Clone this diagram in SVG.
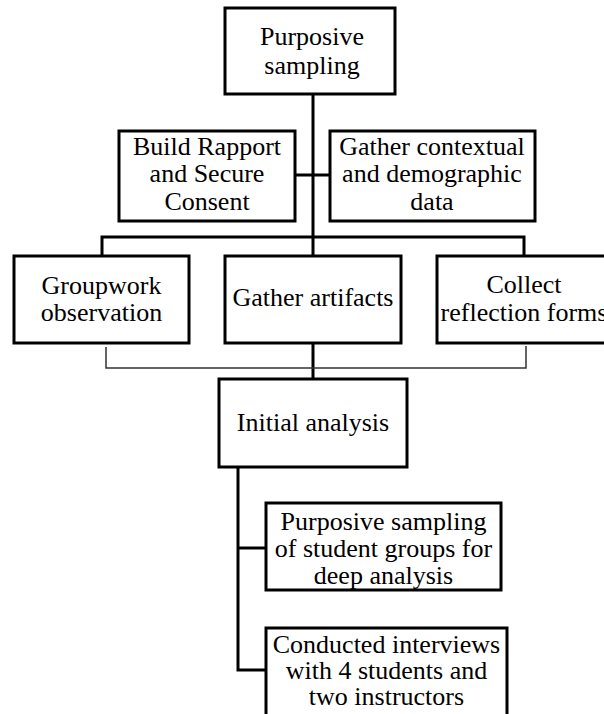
<svg xmlns="http://www.w3.org/2000/svg" width="604" height="714" viewBox="0 0 604 714">
  <style>
    .box { fill: #ffffff; stroke: #000000; stroke-width: 3; }
    .link { fill: none; stroke: #000000; stroke-width: 3; }
    .thin { fill: none; stroke: #333333; stroke-width: 1.5; }
    text { font-family: "Liberation Serif", "Times New Roman", serif; font-size: 26px; fill: #000000; text-anchor: middle; }
  </style>
  <rect width="604" height="714" fill="#ffffff"/>

  <!-- connectors -->
  <g id="connectors">
    <!-- main trunk -->
    <line class="link" x1="313" y1="94" x2="313" y2="379"/>
    <!-- side branches to rapport / context boxes -->
    <line class="link" x1="295" y1="175" x2="330" y2="175"/>
    <!-- bracket to the three collection boxes -->
    <polyline class="link" points="102,256 102,237 524,237 524,256"/>
    <!-- merge bracket under the collection boxes -->
    <polyline class="thin" points="106,347 106,368 526,368 526,346"/>
    <!-- initial analysis to follow-up steps -->
    <polyline class="link" points="238,467 238,670 266,670"/>
    <line class="link" x1="238" y1="548" x2="266" y2="548"/>
  </g>

  <g id="purposive-sampling">
    <rect class="box" x="225" y="8" width="170" height="86"/>
    <text x="312" y="45">Purposive</text>
    <text x="312" y="74">sampling</text>
  </g>

  <g id="build-rapport">
    <rect class="box" x="119" y="131" width="176" height="90"/>
    <text x="207" y="155">Build Rapport</text>
    <text x="207" y="182">and Secure</text>
    <text x="207" y="210">Consent</text>
  </g>

  <g id="gather-context">
    <rect class="box" x="330" y="131" width="205" height="90"/>
    <text x="432" y="155">Gather contextual</text>
    <text x="432" y="182">and demographic</text>
    <text x="432" y="210">data</text>
  </g>

  <g id="groupwork-observation">
    <rect class="box" x="14" y="256" width="175" height="87"/>
    <text x="101.5" y="294">Groupwork</text>
    <text x="101.5" y="321">observation</text>
  </g>

  <g id="gather-artifacts">
    <rect class="box" x="225" y="256" width="176" height="87"/>
    <text x="313" y="306">Gather artifacts</text>
  </g>

  <g id="collect-reflection">
    <rect class="box" x="437" y="256" width="175" height="87"/>
    <text x="524" y="293">Collect</text>
    <text x="524" y="321">reflection forms</text>
  </g>

  <g id="initial-analysis">
    <rect class="box" x="219" y="379" width="188" height="88"/>
    <text x="313" y="431">Initial analysis</text>
  </g>

  <g id="deep-analysis-sampling">
    <rect class="box" x="266" y="503" width="235" height="87"/>
    <text x="383.5" y="530">Purposive sampling</text>
    <text x="383.5" y="557">of student groups for</text>
    <text x="383.5" y="584">deep analysis</text>
  </g>

  <g id="interviews">
    <rect class="box" x="266" y="628" width="241" height="90"/>
    <text x="386.5" y="653">Conducted interviews</text>
    <text x="386.5" y="679">with 4 students and</text>
    <text x="386.5" y="705">two instructors</text>
  </g>
</svg>
